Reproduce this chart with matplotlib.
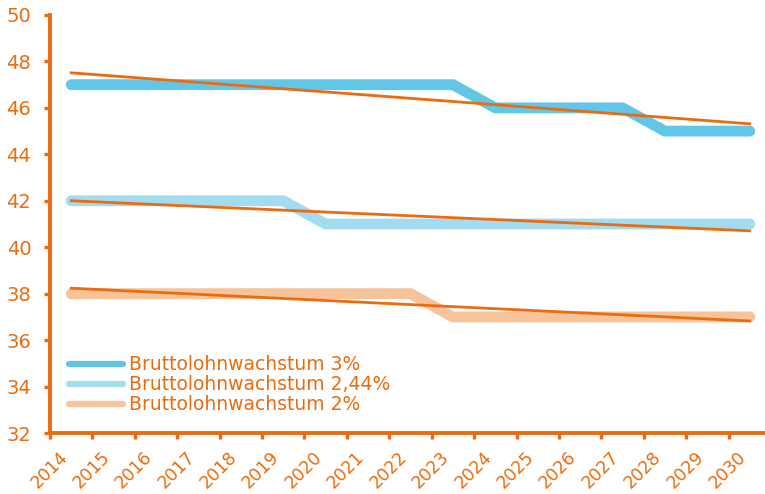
import numpy as np
import matplotlib
matplotlib.use("Agg")
import matplotlib.pyplot as plt
from matplotlib.transforms import ScaledTranslation

years = [str(y) for y in range(2014, 2031)]
s3 = [47, 47, 47, 47, 47, 47, 47, 47, 47, 47, 46, 46, 46, 46, 45, 45, 45]
s244 = [42, 42, 42, 42, 42, 42, 41, 41, 41, 41, 41, 41, 41, 41, 41, 41, 41]
s2 = [38, 38, 38, 38, 38, 38, 38, 38, 38, 37, 37, 37, 37, 37, 37, 37, 37]
labels = ["Bruttolohnwachstum 3%", "Bruttolohnwachstum 2,44%", "Bruttolohnwachstum 2%"]
colors = ["#62C6E8", "#A2DCF0", "#F7C39A"]
orange = "#EC6B0E"

plt.rcParams['font.family'] = ['DejaVu Sans']
fig = plt.figure(figsize=(7.65, 4.94), dpi=100)
ax = fig.add_axes([50/765, 61/494, 721/765, 418/494])

x = np.arange(len(years))
for series, c, lab in zip([s3, s244, s2], colors, labels):
    ax.plot(x, series, color=c, lw=7.8, solid_capstyle='round', solid_joinstyle='miter', label=lab, zorder=2)
for series in [s3, s244, s2]:
    k, b = np.polyfit(x, series, 1)
    ax.plot(x, k * x + b, color=orange, lw=2.0, zorder=3)

ax.set_xlim(-0.5, len(years) - 0.5)
ax.set_ylim(32, 50)
ax.set_yticks(np.arange(32, 51, 2))
ax.set_xticks(x)
ax.set_xticklabels(years, rotation=45, ha='right', va='top')
offset = ScaledTranslation(4/100, 0, fig.dpi_scale_trans)
for lbl in ax.get_xticklabels():
    lbl.set_transform(lbl.get_transform() + offset)
ax.set_xticks(np.arange(-0.5, len(years), 1), minor=True)
ax.tick_params(axis='x', which='major', length=0, pad=11, labelsize=12.5, labelcolor=orange)
ax.tick_params(axis='x', which='minor', length=4, width=2.4, color=orange)
ax.tick_params(axis='y', length=4, width=2.4, color=orange, labelsize=14, labelcolor=orange, pad=9.5)
for s in ['top', 'right']:
    ax.spines[s].set_visible(False)
for s in ['left', 'bottom']:
    ax.spines[s].set_color(orange)
    ax.spines[s].set_linewidth(2.8)

leg = ax.legend(loc='lower left', bbox_to_anchor=(0.0, 0.0), frameon=False, fontsize=13.5,
                handlelength=2.9, handletextpad=0.3, labelspacing=0.05, borderaxespad=0.6)
for t in leg.get_texts():
    t.set_color(orange)
for h in leg.get_lines():
    h.set_linewidth(4.5)
    h.set_solid_capstyle('round')

fig.savefig("out.png", dpi=100)
